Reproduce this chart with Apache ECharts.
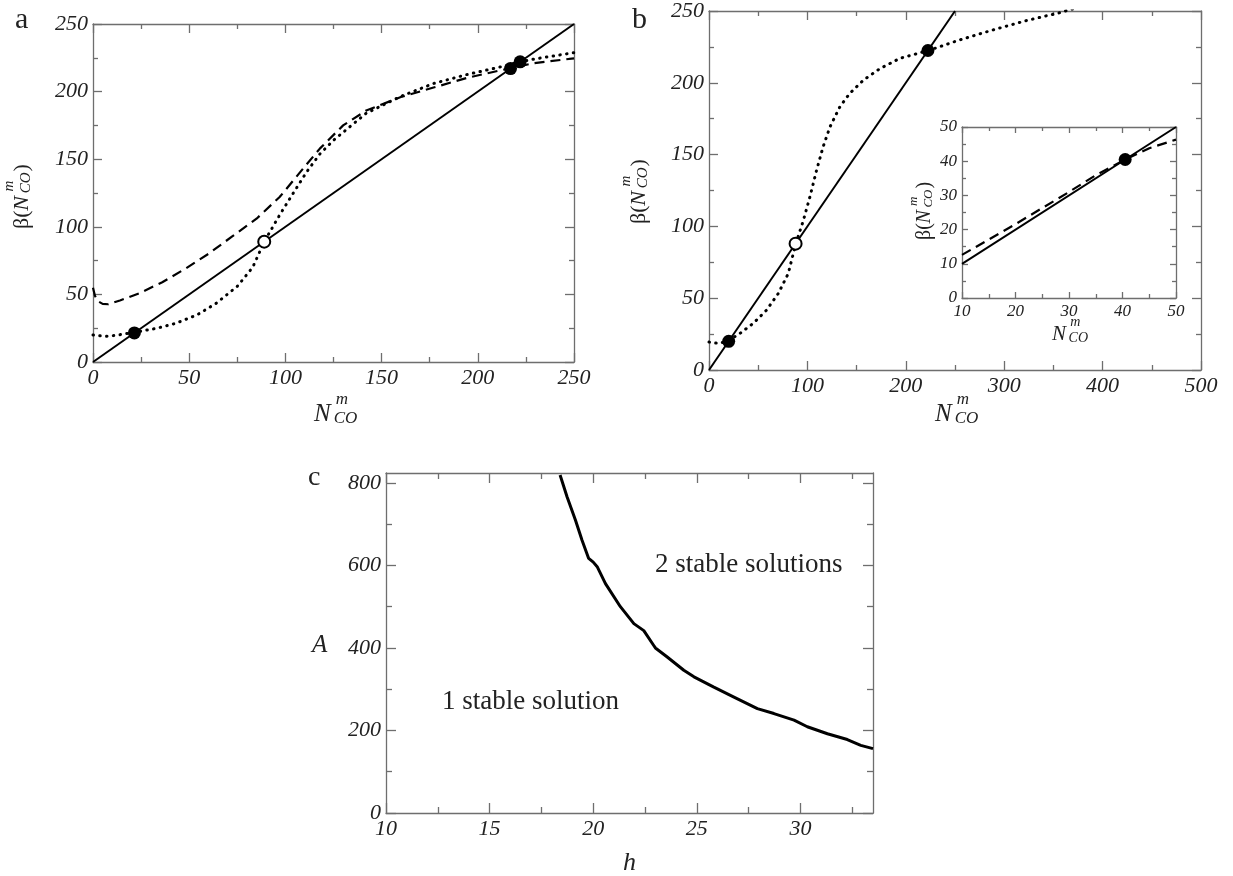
<!DOCTYPE html>
<html>
<head>
<meta charset="utf-8">
<script src="https://cdn.jsdelivr.net/npm/echarts@6/dist/echarts.min.js"></script>
<style>
  html, body { margin: 0; padding: 0; background: #fff; }
  #main { width: 1233px; height: 876px; }
</style>
</head>
<body>
<div id="main"></div>
<script>
// panel a: beta(N) curves against the identity line
var aSolid = [[0, 0], [250, 250]];
var aDashed = [[0, 55], [1, 49], [2.5, 45], [5, 43], [8, 42.7], [14, 45.5], [24, 50.8], [36, 59], [48, 69], [60, 80],
  [72, 92.5], [85, 106], [97, 122], [108, 141], [118, 158], [130, 175], [142, 186], [160, 196], [177, 203],
  [194, 210], [211, 215.5], [217, 217.3], [229, 221], [250, 224.6]];
var aDotted = [[0, 20], [4, 19.3], [8, 19], [14, 20.2], [21, 21.8], [33, 24.9], [43, 28.6], [54, 34.8], [64, 43.4],
  [75, 56], [83, 70], [89, 89], [97, 108.7], [104, 124.7], [111, 140.5], [118, 154], [125, 164], [142, 184],
  [160, 196.5], [177, 206], [194, 212.5], [211, 218], [222, 222], [229, 224], [250, 228.8]];
var aStable = [[21.5, 21.5], [217, 217], [222, 222]];
var aUnstable = [[89, 89]];

// panel b
var bSolid = [[0, 0], [250, 250]];
var bDotted = [[0, 19.5], [5, 18.8], [11, 18.6], [20, 20.5], [31.5, 25.5], [45, 32.5], [58.6, 41.8], [70.5, 53.4],
  [80.6, 67.3], [88, 87.5], [96, 104.4], [102.6, 120.7], [109.4, 139.3], [116, 155.5], [123, 169.4], [133, 183.3],
  [143, 192.6], [157, 201.9], [174, 210], [194, 217], [223, 222.5], [255, 229.9], [289, 236.9], [323, 243.4],
  [357, 248.9], [370, 251.5]];
var bStable = [[20, 20], [222.5, 222.5]];
var bUnstable = [[88, 88]];

// inset of b
var iSolid = [[10, 10], [50, 50]];
var iDashed = [[10, 12.6], [20, 21.6], [30, 31], [35, 35.9], [40.5, 40.5], [45, 43.8], [50, 46.3]];
var iStable = [[40.5, 40.5]];

// panel c: boundary between 1 and 2 stable solutions
var cH = [18.4, 18.74, 19.14, 19.46, 19.78, 20.0, 20.19, 20.59, 21.31, 21.96, 22.44, 22.92, 23.0, 23.57, 24.37,
  24.86, 25.82, 26.79, 27.92, 28.72, 29.69, 30.33, 31.3, 32.26, 32.91, 33.5];
var cA = [819, 766, 710, 661, 617, 608, 597, 556, 500, 459, 442, 406, 400, 378, 346, 330, 305, 281, 253, 241,
  225, 209, 192, 178, 164, 156];
var cMajorX = [10, 15, 20, 25, 30];
var cMinorX = [12.5, 17.5, 22.5, 27.5, 32.5];
var cMajorY = [0, 200, 400, 600, 800];
var cMinorY = [100, 300, 500, 700];

var serif = 'Liberation Serif';
var frame = '#6e6e6e';
var ink = '#222';

function ax(gi, pos, min, max, o) {
  var line = { color: frame, width: 1.3 };
  var tick = { show: true, inside: true, length: o.len, lineStyle: line };
  if (o.ticks) tick.customValues = o.ticks;
  var label = { show: false };
  if (o.fs) {
    label = { show: true, margin: 5, fontSize: o.fs, fontFamily: serif, fontStyle: 'italic', color: ink,
      showMinLabel: true, showMaxLabel: true };
    if (o.ticks) label.customValues = o.ticks;
  }
  return {
    type: 'value', gridIndex: gi, position: pos, min: min, max: max, interval: o.interval,
    axisLine: { show: o.line !== false, onZero: false, lineStyle: line },
    axisTick: tick,
    minorTick: { show: !!o.minorLen, splitNumber: 2, length: o.minorLen, lineStyle: line },
    axisLabel: label,
    splitLine: { show: false }
  };
}

function txt(s, x, base, size, style, align) {
  return {
    type: 'text', x: x, y: base - 0.32 * size, z: 10,
    style: { text: s, fontSize: size, fontFamily: serif, fontStyle: style || 'normal', fill: ink,
      textAlign: align || 'left', textVerticalAlign: 'middle' }
  };
}

// N^m_CO, optionally wrapped as beta(...); x,y = left baseline of the title
function nco(x, y, F, s, rot, beta) {
  var off = beta ? 0.83 * F : 0;
  var kids = [];
  if (beta) kids.push(txt('β(', 0, 0, F));
  kids.push(txt('N', off, 0, F, 'italic'));
  kids.push(txt('m', off + 0.87 * F, -0.68 * F, s, 'italic'));
  kids.push(txt('CO', off + 0.79 * F, 0.08 * F, s, 'italic'));
  if (beta) kids.push(txt(')', off + 0.84 * F + 1.39 * s, 0, F));
  return { type: 'group', x: x, y: y, rotation: rot, children: kids };
}

function lineS(xi, data, type, w) {
  var ls = { color: '#000', width: w || 2 };
  if (type === 'dash') { ls.type = [10, 6]; ls.width = 2.2; }
  if (type === 'dot') { ls.type = [0.5, 6.3]; ls.cap = 'round'; ls.width = 3; }
  return { type: 'line', xAxisIndex: xi, yAxisIndex: xi, data: data, showSymbol: false, silent: true,
    lineStyle: ls, z: 2 };
}

function dots(xi, data, open) {
  return { type: 'scatter', xAxisIndex: xi, yAxisIndex: xi, data: data, silent: true, z: 5,
    symbolSize: open ? 12 : 13,
    itemStyle: open ? { color: '#fff', borderColor: '#000', borderWidth: 2, opacity: 1 }
      : { color: '#000', opacity: 1 } };
}

var chart = echarts.init(document.getElementById('main'));
var option = {
  animation: false,
  backgroundColor: '#fff',
  grid: [
    { left: 93, top: 24, width: 481, height: 338, outerBoundsMode: 'none' },
    { left: 709, top: 11, width: 492, height: 359, outerBoundsMode: 'none' },
    { left: 962, top: 127, width: 214, height: 171, outerBoundsMode: 'none' },
    { left: 386, top: 473, width: 487, height: 340, outerBoundsMode: 'none' }
  ],
  xAxis: [
    ax(0, 'bottom', 0, 250, { interval: 50, len: 9, minorLen: 5, fs: 22 }),
    ax(0, 'top', 0, 250, { interval: 50, len: 9, minorLen: 5 }),
    ax(1, 'bottom', 0, 500, { interval: 100, len: 9, minorLen: 5, fs: 22 }),
    ax(1, 'top', 0, 500, { interval: 100, len: 9, minorLen: 5 }),
    ax(2, 'bottom', 10, 50, { interval: 10, len: 6, minorLen: 4, fs: 17 }),
    ax(2, 'top', 10, 50, { interval: 10, len: 6, minorLen: 4 }),
    ax(3, 'bottom', 10, 33.5, { ticks: cMajorX, len: 10, fs: 22 }),
    ax(3, 'top', 10, 33.5, { ticks: cMajorX, len: 10 }),
    ax(3, 'bottom', 10, 33.5, { ticks: cMinorX, len: 6, line: false }),
    ax(3, 'top', 10, 33.5, { ticks: cMinorX, len: 6, line: false })
  ],
  yAxis: [
    ax(0, 'left', 0, 250, { interval: 50, len: 9, minorLen: 5, fs: 22 }),
    ax(0, 'right', 0, 250, { interval: 50, len: 9, minorLen: 5 }),
    ax(1, 'left', 0, 250, { interval: 50, len: 9, minorLen: 5, fs: 22 }),
    ax(1, 'right', 0, 250, { interval: 50, len: 9, minorLen: 5 }),
    ax(2, 'left', 0, 50, { interval: 10, len: 6, minorLen: 4, fs: 17 }),
    ax(2, 'right', 0, 50, { interval: 10, len: 6, minorLen: 4 }),
    ax(3, 'left', 0, 824, { ticks: cMajorY, len: 10, fs: 22 }),
    ax(3, 'right', 0, 824, { ticks: cMajorY, len: 10 }),
    ax(3, 'left', 0, 824, { ticks: cMinorY, len: 6, line: false }),
    ax(3, 'right', 0, 824, { ticks: cMinorY, len: 6, line: false })
  ],
  series: [
    lineS(0, aSolid), lineS(0, aDashed, 'dash'), lineS(0, aDotted, 'dot'),
    dots(0, aStable), dots(0, aUnstable, true),
    lineS(2, bSolid), lineS(2, bDotted, 'dot'),
    dots(2, bStable), dots(2, bUnstable, true),
    lineS(4, iSolid), lineS(4, iDashed, 'dash'), dots(4, iStable),
    {
      type: 'line', xAxisIndex: 6, yAxisIndex: 6, showSymbol: false, silent: true,
      data: cH.map(function (h, i) { return [h, cA[i]]; }),
      lineStyle: { color: '#000', width: 3 }
    }
  ],
  graphic: [
    txt('a', 15, 30, 30), txt('b', 632, 30, 30), txt('c', 308, 487, 28),
    nco(314, 422, 25, 17, 0, false),
    nco(935, 422, 25, 17, 0, false),
    nco(1052, 341, 21, 14, 0, false),
    nco(29, 229, 22, 15, Math.PI / 2, true),
    nco(646, 224, 22, 15, Math.PI / 2, true),
    nco(931, 240, 20, 13, Math.PI / 2, true),
    txt('A', 312, 653, 25, 'italic'),
    txt('h', 623, 871, 26, 'italic'),
    txt('1 stable solution', 442, 711, 27),
    txt('2 stable solutions', 655, 574, 27)
  ]
};
chart.setOption(option);
</script>
</body>
</html>
